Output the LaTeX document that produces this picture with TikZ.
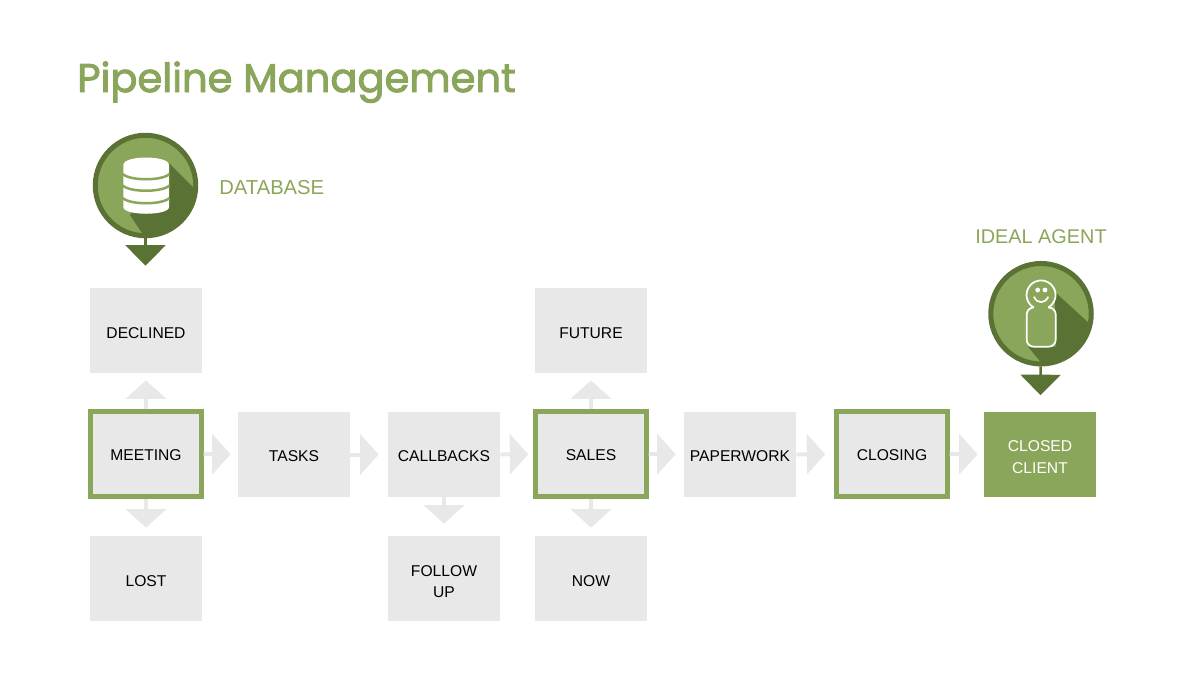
\documentclass[tikz,border=0pt]{standalone}
\usepackage{fontspec}
\setmainfont{Liberation Sans}
\newfontfamily\titlefont[FakeBold=2.4]{Poppins}
\usetikzlibrary{arrows.meta}
\definecolor{pipegreen}{HTML}{8AA65A}
\definecolor{pipedark}{HTML}{5A7335}
\definecolor{pipegray}{HTML}{E8E8E8}
\tikzset{
  stagebox/.style={fill=pipegray, minimum width=2.24cm, minimum height=1.7cm, inner sep=0pt, align=center, font=\fontsize{8.9}{12}\selectfont, execute at begin node={\rule{0pt}{#1}}},
  stagebox/.default=7.6pt,
  keybox/.style={stagebox, draw=pipegreen, line width=0.09cm, minimum width=2.22cm, minimum height=1.7cm},
  flowarrow/.style={draw=pipegray, line width=0.08cm, -{Triangle[length=0.37cm,width=0.8cm]}},
  pincircle/.style={circle, fill=pipegreen, draw=pipedark, line width=0.1cm, minimum size=2.01cm, inner sep=0pt},
  pinarrow/.style={draw=pipedark, line width=0.05cm, -{Triangle[length=0.41cm,width=0.8cm]}},
  pinlabel/.style={text=pipegreen, inner sep=0pt, font=\fontsize{11.5}{13}\selectfont}
}
\begin{document}
\begin{tikzpicture}[x=0.02cm, y=-0.02cm]

    % 固定页面大小
    \useasboundingbox (0,0) rectangle (1200,674);

    % 标题
    \node[text=pipegreen, inner sep=0pt, font=\titlefont\fontsize{22.8}{28}\selectfont, anchor=base west] (title) at (77,92) {Pipeline Management};

    % 主流程方框
    \node[keybox] (meeting) at (146,454) {MEETING};
    \node[stagebox] (tasks) at (294,454.5) {TASKS};
    \node[stagebox] (callbacks) at (444,454.5) {CALLBACKS};
    \node[keybox] (sales) at (591,454) {SALES};
    \node[stagebox] (paperwork) at (740,454.5) {PAPERWORK};
    \node[keybox] (closing) at (892,454) {CLOSING};
    \node[stagebox=0pt, fill=pipegreen, text=white, font=\fontsize{8.9}{13}\selectfont] (closed) at (1040,454.5) {\rule{0pt}{9.2pt}CLOSED\\CLIENT};

    % 上下分支方框
    \node[stagebox=9.6pt] (declined) at (146,330.5) {DECLINED};
    \node[stagebox=9.6pt] (future) at (591,330.5) {FUTURE};
    \node[stagebox=9.6pt] (lost) at (146,578.5) {LOST};
    \node[stagebox=0pt] (followup) at (444,578.5) {\rule{0pt}{10.2pt}FOLLOW\\UP};
    \node[stagebox=9.6pt] (now) at (591,578.5) {NOW};

    % 水平箭头
    \draw[flowarrow, shorten >=0.14cm] (meeting) -- (tasks);
    \draw[flowarrow, shorten >=0.18cm] (tasks) -- (callbacks);
    \draw[flowarrow, shorten >=0.1cm] (callbacks) -- (sales);
    \draw[flowarrow, shorten >=0.16cm] (sales) -- (paperwork);
    \draw[flowarrow, shorten >=0.18cm] (paperwork) -- (closing);
    \draw[flowarrow, shorten >=0.12cm] (closing) -- (closed);

    % 竖直箭头
    \draw[flowarrow, shorten >=0.14cm] (meeting) -- (declined);
    \draw[flowarrow, shorten >=0.16cm] (meeting) -- (lost);
    \draw[flowarrow, shorten >=0.24cm] (callbacks) -- (followup);
    \draw[flowarrow, shorten >=0.14cm] (sales) -- (future);
    \draw[flowarrow, shorten >=0.16cm] (sales) -- (now);

    % 数据库圆标
    \node[pincircle] (dbpin) at (145.5,185.5) {};
    \begin{scope}
        \clip (145.5,185.5) circle[radius=50.3];
        \fill[pipedark] (169,163) -- (229,223) -- (229,260) -- (160,260) -- (130,215) -- cycle; % 长阴影
    \end{scope}
    \draw[pinarrow, shorten >=0.44cm] (dbpin) -- (dbpin |- declined.north);

    % 数据库图标
    \fill[white] (123.3,165) .. controls (123.3,155) and (169,155) .. (169,165) -- (169,207) .. controls (169,216) and (123.3,216) .. (123.3,207) -- cycle;
    \draw[pipegreen, line width=0.05cm] (122.8,174) .. controls (130,181) and (162,181) .. (169.5,174);
    \draw[pipegreen, line width=0.05cm] (122.8,185.5) .. controls (130,192.5) and (162,192.5) .. (169.5,185.5);
    \draw[pipegreen, line width=0.05cm] (122.8,198) .. controls (130,205) and (162,205) .. (169.5,198);
    \node[pinlabel, anchor=west] (dblabel) at (219,188) {DATABASE};

    % 理想客户圆标
    \node[pincircle] (agentpin) at (1041,313.7) {};
    \begin{scope}
        \clip (1041,313.7) circle[radius=50.3];
        \fill[pipedark] (1055,292) -- (1115,347) -- (1115,400) -- (1072,400) -- (1028,346.7) -- (1055.7,346.7) -- cycle; % 长阴影
    \end{scope}
    \draw[pinarrow, shorten >=0.33cm] (agentpin) -- (closed);

    % 人物图标
    \draw[white, line width=0.035cm] (1033.8,307.5) arc[start angle=120, end angle=420, radius=14.5];
    \draw[white, line width=0.035cm, rounded corners=0.14cm] (1033.8,307.5) -- (1026.7,307.5) -- (1026.7,346.7) -- (1055.7,346.7) -- (1055.7,307.5) -- (1048.2,307.5);
    \fill[white] (1037.7,290) circle[radius=2.4];
    \fill[white] (1045,290) circle[radius=2.4];
    \draw[white, line width=0.035cm] (1034,296.7) .. controls (1037,304) and (1045,304) .. (1048.3,296.7);
    \node[pinlabel, font=\fontsize{11.3}{13}\selectfont] (agentlabel) at (1041,237) {IDEAL AGENT};

\end{tikzpicture}
\end{document}
